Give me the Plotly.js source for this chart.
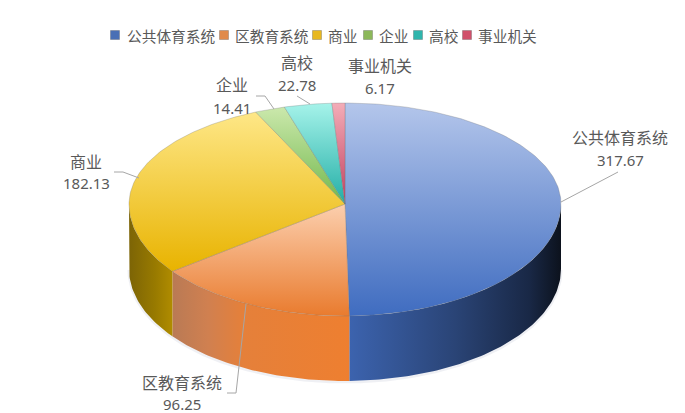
<!DOCTYPE html>
<html><head><meta charset="utf-8">
<script src="https://cdn.plot.ly/plotly-3.0.1.min.js"></script>
<style>html,body{margin:0;padding:0;background:#fff}#c{width:685px;height:413px}</style>
</head><body><div id="c"></div>
<script>
const categories = ['公共体育系统','区教育系统','商业','企业','高校','事业机关'];
const values = [317.67,96.25,182.13,14.41,22.78,6.17];
const valueLabels = ['317.67','96.25','182.13','14.41','22.78','6.17'];
const topLight = ['#b4c6eb','#fccfae','#fee787','#cbe8ac','#a6f3ea','#f3adb8'];
const topDark  = ['#3f6cc0','#e97b2e','#e8b300','#72b84c','#22aea6','#c2405f'];
const swatchColors = ['#4a6fb5','#e08a4a','#e8b820','#8cb85a','#2fb5ac','#d0506a'];
const wallStops = [
  [[0,'#3c63ae'],[0.5,'#2a4476'],[0.85,'#192846'],[1,'#0c121d']],
  [[0,'#b97a55'],[0.2,'#d08050'],[0.4,'#e5803a'],[1,'#ee7f30']],
  [[0,'#7c6406'],[0.6,'#987a00'],[1,'#b08c00']],
  [[0,'#5f9a3f'],[1,'#72b84c']],
  [[0,'#1f9a93'],[1,'#22aea6']],
  [[0,'#a8384f'],[1,'#c2405f']]
];
const labelX = [620,182,86,232,297,380];
const nameY  = [137,382,161,84,62,65];
const valueY = [160,404,183,108,85,88];
const leaderX = [[561,618],[246,236,227],[139,123,114],[274,265,256],[310,297],[]];
const leaderY = [[202,172],[304,393,393],[178,172,172],[109,96,96],[104,96],[]];
const legendSwatchX = [115,224,317,368,418,467];
const legendTextX = [125,233,326,377,427,476];
const cx=345, cy=204, rx=216, ryBack=101, ryFront=112, depth=65;

const total = values.reduce((a,b)=>a+b,0);
const px = a => cx + rx*Math.sin(a);
const py = (a,d=0) => { const c=Math.cos(a); return cy + d - (c>0?ryBack:ryFront)*c; };
function arc(a1,a2){ const n=Math.max(2,Math.ceil((a2-a1)/(Math.PI/180))); const o=[]; for(let i=0;i<=n;i++) o.push(a1+(a2-a1)*i/n); return o; }

const traces=[], annotations=[];
let acc=0;
const spans = values.map(v=>{ const a=acc/total*2*Math.PI; acc+=v; return [a,acc/total*2*Math.PI]; });

// soft shadow under the side wall
{
  const s=arc(Math.PI/2,Math.PI*1.5);
  traces.push({type:'scatter',mode:'lines',x:s.map(px),y:s.map(a=>py(a,depth+1)),line:{color:'rgba(120,135,165,0.12)',width:3},hoverinfo:'skip',showlegend:false});
}
// side walls: only the part of each slice on the near half
values.forEach((v,i)=>{
  const a1=Math.max(spans[i][0],Math.PI/2), a2=Math.min(spans[i][1],Math.PI*1.5);
  if(a2<=a1) return;
  const s=arc(a1,a2);
  const xs=s.map(px).concat(s.slice().reverse().map(px));
  const ys=s.map(a=>py(a,0)).concat(s.slice().reverse().map(a=>py(a,depth)));
  const lo=Math.min(...xs), hi=Math.max(...xs);
  traces.push({type:'scatter',mode:'lines',x:xs,y:ys,fill:'toself',line:{width:0},
    fillgradient:{type:'horizontal',start:lo,stop:hi,colorscale:wallStops[i]},hoverinfo:'skip',showlegend:false});
});
// top faces
values.forEach((v,i)=>{
  const s=arc(spans[i][0],spans[i][1]);
  const xs=[cx].concat(s.map(px),[cx]);
  const ys=[cy].concat(s.map(a=>py(a)),[cy]);
  const lo=Math.min(...ys), hi=Math.max(...ys);
  traces.push({type:'scatter',mode:'lines',name:categories[i],x:xs,y:ys,fill:'toself',
    line:{color:'rgba(110,110,110,0.4)',width:0.7},
    fillgradient:{type:'vertical',start:hi,stop:lo,colorscale:[[0,topDark[i]],[1,topLight[i]]]},
    text:categories[i]+': '+v,hoverinfo:'text',showlegend:false});
});
// leader lines
leaderX.forEach((lx,i)=>{ if(lx.length) traces.push({type:'scatter',mode:'lines',x:lx,y:leaderY[i],line:{color:'#a6a6a6',width:1},hoverinfo:'skip',showlegend:false}); });
// legend swatches
traces.push({type:'scatter',mode:'markers',x:legendSwatchX,y:categories.map(()=>35),
  marker:{symbol:'square',size:9,color:swatchColors,line:{color:'rgba(70,70,70,0.5)',width:0.6}},hoverinfo:'skip',showlegend:false});

const font={family:'"Noto Sans CJK SC","Noto Sans",sans-serif',color:'#595959'};
categories.forEach((c,i)=>{
  annotations.push({x:legendTextX[i],y:35,xref:'x',yref:'y',text:c,showarrow:false,xanchor:'left',yanchor:'middle',font:{...font,size:14.7}});
  annotations.push({x:labelX[i],y:nameY[i],xref:'x',yref:'y',text:c,showarrow:false,xanchor:'center',yanchor:'middle',font:{...font,size:16}});
  annotations.push({x:labelX[i],y:valueY[i],xref:'x',yref:'y',text:valueLabels[i],showarrow:false,xanchor:'center',yanchor:'middle',font:{...font,family:'"Noto Sans",sans-serif',size:15}});
});

Plotly.newPlot('c',traces,{
  width:685,height:413,margin:{l:0,r:0,t:0,b:0},paper_bgcolor:'#fff',plot_bgcolor:'#fff',showlegend:false,
  xaxis:{range:[0,685],visible:false,fixedrange:true},
  yaxis:{range:[413,0],visible:false,fixedrange:true},
  annotations
},{displayModeBar:false});
</script></body></html>
